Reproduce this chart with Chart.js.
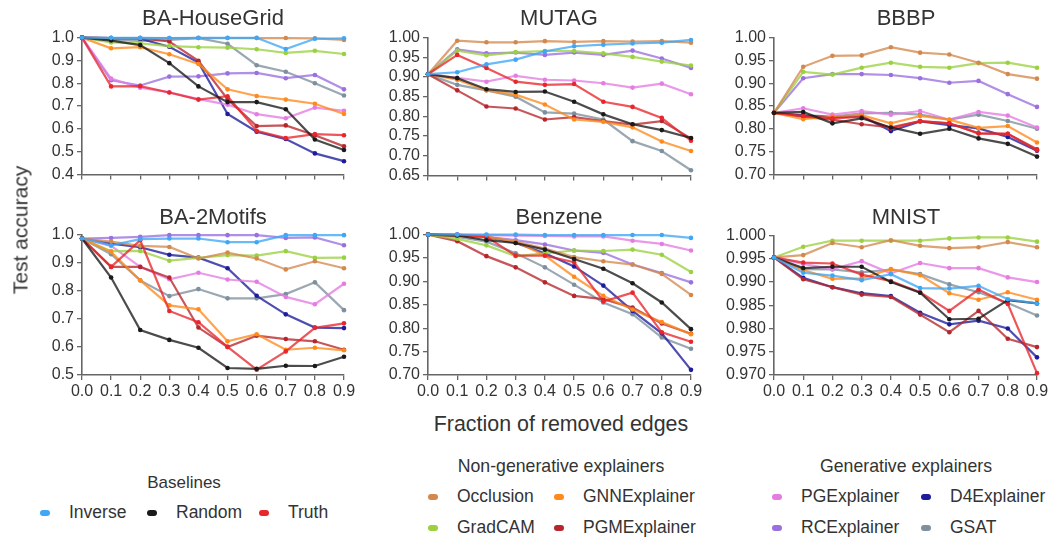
<!DOCTYPE html>
<html>
<head>
<meta charset="utf-8">
<script src="https://cdn.jsdelivr.net/npm/chart.js@4"></script>
<style>
  body { margin: 0; width: 1048px; height: 537px; background: #fff; position: relative; overflow: hidden;
         font-family: 'Liberation Sans', Arial, sans-serif; color: #333; }
  canvas { position: absolute; }
  .txt { position: absolute; white-space: nowrap; line-height: 1; transform: translate(-50%, -50%); }
  .lab { position: absolute; white-space: nowrap; line-height: 1; transform: translateY(-50%); font-size: 17.5px; }
  .mark { position: absolute; width: 10px; height: 6px; border-radius: 3px; transform: translate(-50%, -50%); }
</style>
</head>
<body>
<canvas id="c0"></canvas><canvas id="c1"></canvas><canvas id="c2"></canvas>
<canvas id="c3"></canvas><canvas id="c4"></canvas><canvas id="c5"></canvas>
<div id="legend"></div>
<script>
// x categories (fraction of removed edges)
const xLabels = ['0.0', '0.1', '0.2', '0.3', '0.4', '0.5', '0.6', '0.7', '0.8', '0.9'];

const methods = ['Inverse', 'Random', 'Truth', 'Occlusion', 'GNNExplainer', 'GradCAM',
                 'PGMExplainer', 'PGExplainer', 'D4Explainer', 'RCExplainer', 'GSAT'];
const methodColors = ['#3fa7f5', '#1a1a1a', '#e8262c', '#d3894d', '#ff8a1c', '#9bd140',
                      '#b6262c', '#e47ce2', '#1c1c9c', '#9a70e0', '#7e8f9e'];

// test accuracy per dataset
const houseGrid = {
  Inverse:      [1.0, 0.999, 0.999, 0.998, 0.999, 0.999, 0.999, 0.95, 0.995, 0.997],
  Random:       [1.0, 0.987, 0.967, 0.888, 0.786, 0.717, 0.717, 0.686, 0.553, 0.507],
  Truth:        [1.0, 0.786, 0.787, 0.759, 0.728, 0.743, 0.591, 0.559, 0.577, 0.572],
  Occlusion:    [1.0, 0.998, 0.998, 0.998, 0.998, 0.998, 0.998, 0.998, 0.997, 0.99],
  GNNExplainer: [1.0, 0.953, 0.958, 0.927, 0.884, 0.773, 0.744, 0.728, 0.71, 0.665],
  GradCAM:      [1.0, 0.979, 0.975, 0.963, 0.958, 0.956, 0.949, 0.933, 0.942, 0.928],
  PGMExplainer: [1.0, 0.998, 0.998, 0.983, 0.898, 0.73, 0.612, 0.615, 0.572, 0.523],
  PGExplainer:  [1.0, 0.82, 0.78, 0.76, 0.73, 0.706, 0.664, 0.646, 0.693, 0.679],
  D4Explainer:  [1.0, 0.998, 0.995, 0.96, 0.891, 0.665, 0.587, 0.555, 0.492, 0.458],
  RCExplainer:  [1.0, 0.813, 0.79, 0.829, 0.83, 0.843, 0.845, 0.822, 0.836, 0.773],
  GSAT:         [1.0, 0.99, 0.985, 0.99, 0.998, 0.973, 0.879, 0.85, 0.80, 0.746]
};
const mutag = {
  Inverse:      [0.907, 0.912, 0.932, 0.944, 0.965, 0.978, 0.982, 0.985, 0.987, 0.994],
  Random:       [0.907, 0.897, 0.869, 0.862, 0.863, 0.837, 0.805, 0.78, 0.765, 0.745],
  Truth:        [0.907, 0.956, 0.923, 0.888, 0.88, 0.882, 0.837, 0.824, 0.796, 0.738],
  Occlusion:    [0.907, 0.992, 0.988, 0.988, 0.991, 0.989, 0.991, 0.99, 0.991, 0.987],
  GNNExplainer: [0.907, 0.893, 0.866, 0.855, 0.83, 0.792, 0.786, 0.772, 0.736, 0.712],
  GradCAM:      [0.907, 0.967, 0.955, 0.963, 0.966, 0.966, 0.96, 0.951, 0.939, 0.929],
  PGMExplainer: [0.907, 0.866, 0.825, 0.82, 0.792, 0.798, 0.788, 0.779, 0.788, 0.744],
  PGExplainer:  [0.907, 0.898, 0.888, 0.903, 0.893, 0.891, 0.884, 0.873, 0.883, 0.856],
  D4Explainer:  null,
  RCExplainer:  [0.907, 0.97, 0.96, 0.962, 0.956, 0.962, 0.956, 0.967, 0.947, 0.923],
  GSAT:         [0.907, 0.88, 0.866, 0.85, 0.81, 0.807, 0.792, 0.737, 0.712, 0.663]
};
const bbbp = {
  Inverse:      null,
  Random:       [0.835, 0.837, 0.812, 0.823, 0.803, 0.789, 0.8, 0.779, 0.767, 0.739],
  Truth:        [0.835, 0.828, 0.823, 0.826, 0.801, 0.817, 0.812, 0.79, 0.789, 0.753],
  Occlusion:    [0.835, 0.936, 0.96, 0.961, 0.979, 0.967, 0.963, 0.945, 0.92, 0.91],
  GNNExplainer: [0.835, 0.821, 0.827, 0.83, 0.812, 0.828, 0.82, 0.802, 0.806, 0.77],
  GradCAM:      [0.835, 0.925, 0.919, 0.934, 0.945, 0.936, 0.934, 0.944, 0.945, 0.934],
  PGMExplainer: [0.835, 0.826, 0.82, 0.81, 0.803, 0.817, 0.812, 0.79, 0.789, 0.755],
  PGExplainer:  [0.835, 0.845, 0.831, 0.839, 0.831, 0.839, 0.82, 0.837, 0.829, 0.803],
  D4Explainer:  [0.835, 0.829, 0.825, 0.828, 0.795, 0.816, 0.808, 0.801, 0.782, 0.752],
  RCExplainer:  [0.835, 0.911, 0.92, 0.92, 0.918, 0.911, 0.901, 0.905, 0.876, 0.848],
  GSAT:         [0.835, 0.83, 0.827, 0.834, 0.835, 0.831, 0.82, 0.831, 0.817, 0.80]
};
const twoMotifs = {
  Inverse:      [0.986, 0.962, 0.984, 0.986, 0.986, 0.973, 0.973, 0.998, 0.998, 0.998],
  Random:       [0.986, 0.847, 0.66, 0.625, 0.597, 0.525, 0.522, 0.533, 0.532, 0.565],
  Truth:        [0.986, 0.885, 0.98, 0.728, 0.688, 0.6, 0.519, 0.584, 0.668, 0.684],
  Occlusion:    [0.986, 0.975, 0.96, 0.956, 0.915, 0.936, 0.915, 0.876, 0.905, 0.88],
  GNNExplainer: [0.986, 0.938, 0.837, 0.748, 0.734, 0.62, 0.645, 0.59, 0.597, 0.588],
  GradCAM:      [0.986, 0.941, 0.942, 0.907, 0.917, 0.927, 0.925, 0.941, 0.917, 0.918],
  PGMExplainer: [0.986, 0.885, 0.885, 0.847, 0.669, 0.6, 0.64, 0.628, 0.62, 0.59],
  PGExplainer:  [0.986, 0.96, 0.885, 0.841, 0.864, 0.84, 0.832, 0.778, 0.752, 0.825],
  D4Explainer:  [0.986, 0.968, 0.955, 0.928, 0.918, 0.88, 0.782, 0.716, 0.669, 0.667],
  RCExplainer:  [0.986, 0.988, 0.992, 0.998, 0.998, 0.998, 0.998, 0.988, 0.99, 0.962],
  GSAT:         [0.986, 0.93, 0.837, 0.781, 0.806, 0.773, 0.773, 0.788, 0.83, 0.731]
};
const benzene = {
  Inverse:      [1.0, 1.0, 1.0, 1.0, 0.999, 0.999, 0.999, 0.999, 0.999, 0.993],
  Random:       [1.0, 0.998, 0.988, 0.982, 0.968, 0.948, 0.927, 0.896, 0.855, 0.798],
  Truth:        [1.0, 0.999, 0.995, 0.955, 0.955, 0.941, 0.857, 0.876, 0.791, 0.771],
  Occlusion:    [1.0, 0.998, 0.995, 0.985, 0.97, 0.952, 0.943, 0.936, 0.916, 0.871],
  GNNExplainer: [1.0, 0.998, 0.995, 0.985, 0.955, 0.91, 0.869, 0.84, 0.813, 0.787],
  GradCAM:      [1.0, 0.991, 0.977, 0.954, 0.96, 0.966, 0.965, 0.968, 0.957, 0.92],
  PGMExplainer: [1.0, 0.986, 0.954, 0.93, 0.898, 0.869, 0.862, 0.844, 0.81, 0.788],
  PGExplainer:  [1.0, 1.0, 0.999, 0.998, 0.997, 0.996, 0.996, 0.987, 0.98, 0.966],
  D4Explainer:  [1.0, 1.0, 0.995, 0.982, 0.96, 0.932, 0.891, 0.837, 0.789, 0.711],
  RCExplainer:  [1.0, 0.998, 0.995, 0.988, 0.979, 0.966, 0.961, 0.936, 0.918, 0.898],
  GSAT:         [1.0, 0.995, 0.985, 0.96, 0.93, 0.893, 0.855, 0.83, 0.78, 0.756]
};
const mnist = {
  Inverse:      [0.9953, 0.992, 0.9914, 0.9904, 0.9917, 0.9887, 0.9886, 0.9892, 0.9863, 0.9854],
  Random:       [0.9953, 0.993, 0.9933, 0.9933, 0.990, 0.9877, 0.982, 0.9821, 0.9861, 0.9854],
  Truth:        [0.9953, 0.9942, 0.994, 0.9916, 0.9902, 0.9878, 0.9838, 0.9884, 0.9853, 0.9704],
  Occlusion:    [0.9953, 0.9958, 0.9984, 0.9975, 0.999, 0.9978, 0.9973, 0.9975, 0.9986, 0.9975],
  GNNExplainer: [0.9953, 0.9926, 0.9907, 0.9908, 0.9928, 0.9915, 0.9876, 0.9862, 0.9878, 0.9862],
  GradCAM:      [0.9953, 0.9976, 0.9989, 0.9989, 0.9989, 0.9989, 0.9994, 0.9996, 0.9996, 0.9987],
  PGMExplainer: [0.9953, 0.9906, 0.9889, 0.9873, 0.9868, 0.983, 0.9792, 0.9838, 0.9778, 0.976],
  PGExplainer:  [0.9953, 0.9939, 0.9928, 0.9945, 0.9919, 0.9941, 0.993, 0.993, 0.991, 0.99],
  D4Explainer:  [0.9953, 0.9909, 0.9889, 0.9876, 0.987, 0.9834, 0.9809, 0.9817, 0.98, 0.9738],
  RCExplainer:  null,
  GSAT:         [0.9953, 0.9928, 0.9927, 0.9921, 0.9927, 0.9917, 0.9895, 0.9878, 0.9855, 0.9828]
};

// y tick values
const ticksHouseGrid = [0.4, 0.5, 0.6, 0.7, 0.8, 0.9, 1.0];
const ticksMutag = [0.65, 0.70, 0.75, 0.80, 0.85, 0.90, 0.95, 1.00];
const ticksBbbp = [0.70, 0.75, 0.80, 0.85, 0.90, 0.95, 1.00];
const ticksTwoMotifs = [0.5, 0.6, 0.7, 0.8, 0.9, 1.0];
const ticksBenzene = [0.70, 0.75, 0.80, 0.85, 0.90, 0.95, 1.00];
const ticksMnist = [0.970, 0.975, 0.980, 0.985, 0.990, 0.995, 1.000];

const FONT = "'Liberation Sans', Arial, sans-serif";
const AXIS = '#666';

function alpha(hex, a) {
  const n = parseInt(hex.slice(1), 16);
  return `rgba(${n >> 16},${(n >> 8) & 255},${n & 255},${a})`;
}

// plot area: left, right, top, bottom (page pixels)
function makePanel(id, box, values, yTicks, decimals, showX) {
  const yW = 52, padT = 12, padR = 14, xH = showX ? 30 : 8;
  const cv = document.getElementById(id);
  cv.width = Math.round(box[1] - box[0] + yW + padR);
  cv.height = Math.round(box[3] - box[2] + padT + xH + 2);
  cv.style.left = (box[0] - yW) + 'px';
  cv.style.top = (box[2] - padT) + 'px';

  const datasets = [];
  methods.forEach((m, i) => {
    if (!values[m]) return;
    datasets.push({
      label: m,
      data: values[m],
      borderColor: alpha(methodColors[i], 0.78),
      backgroundColor: methodColors[i],
      borderWidth: 2.2,
      pointRadius: 2.3,
      pointBorderWidth: 0,
      pointBackgroundColor: methodColors[i],
      tension: 0,
      clip: false
    });
  });

  new Chart(cv, {
    type: 'line',
    data: { labels: xLabels, datasets: datasets },
    options: {
      responsive: false,
      animation: false,
      events: [],
      layout: { padding: { top: padT, right: padR, bottom: 2, left: 0 } },
      plugins: { legend: { display: false }, tooltip: { enabled: false } },
      scales: {
        x: {
          offset: false,
          grid: { display: true, drawOnChartArea: false, drawTicks: true, tickLength: 5, color: AXIS, lineWidth: 1.3 },
          border: { display: true, color: AXIS, width: 1.6 },
          ticks: { display: showX, color: '#333', font: { family: FONT, size: 16 }, padding: 2, maxRotation: 0, autoSkip: false },
          afterFit: s => { s.height = xH; }
        },
        y: {
          min: yTicks[0],
          max: yTicks[yTicks.length - 1],
          afterBuildTicks: s => { s.ticks = yTicks.map(v => ({ value: v })); },
          grid: { display: true, drawOnChartArea: false, drawTicks: true, tickLength: 5, color: AXIS, lineWidth: 1.3 },
          border: { display: true, color: AXIS, width: 1.6 },
          ticks: { color: '#333', font: { family: FONT, size: 16 }, padding: 3, autoSkip: false,
                   callback: v => Number(v).toFixed(decimals) },
          afterFit: s => { s.width = yW; }
        }
      }
    }
  });
}

makePanel('c0', [82, 344, 37.3, 177.3], houseGrid, ticksHouseGrid, 1, false);
makePanel('c1', [428.3, 691, 37, 178], mutag, ticksMutag, 2, false);
makePanel('c2', [774.3, 1037.3, 37, 177], bbbp, ticksBbbp, 2, false);
makePanel('c3', [82, 344, 234.3, 375.3], twoMotifs, ticksTwoMotifs, 1, true);
makePanel('c4', [428.3, 691, 234.3, 375.3], benzene, ticksBenzene, 2, true);
makePanel('c5', [774.3, 1037.3, 234.9, 375.3], mnist, ticksMnist, 3, true);

// titles and text
function text(str, x, y, size, rotate) {
  const d = document.createElement('div');
  d.className = 'txt';
  d.textContent = str;
  d.style.left = x + 'px';
  d.style.top = y + 'px';
  d.style.fontSize = size + 'px';
  if (rotate) d.style.transform = 'translate(-50%, -50%) rotate(-90deg)';
  document.body.appendChild(d);
}
text('BA-HouseGrid', 213, 18, 22);
text('MUTAG', 559, 18, 22);
text('BBBP', 906, 18, 22);
text('BA-2Motifs', 213, 217, 22);
text('Benzene', 559, 217, 22);
text('MNIST', 906, 217, 22);
text('Test accuracy', 20, 230, 21, true);
text('Fraction of removed edges', 561, 425, 21.4);

// legend
text('Baselines', 184, 482, 17);
text('Non-generative explainers', 561, 467, 17.7);
text('Generative explainers', 906, 467, 17.7);
const legendPos = {
  Inverse: [45, 513], Random: [152, 513], Truth: [264, 513],
  Occlusion: [433, 497], GNNExplainer: [559, 497],
  GradCAM: [433, 528], PGMExplainer: [559, 528],
  PGExplainer: [777, 497], D4Explainer: [926, 497],
  RCExplainer: [777, 528], GSAT: [926, 528]
};
methods.forEach((m, i) => {
  const [x, y] = legendPos[m];
  const mk = document.createElement('div');
  mk.className = 'mark';
  mk.style.left = x + 'px';
  mk.style.top = y + 'px';
  mk.style.background = methodColors[i];
  document.body.appendChild(mk);
  const lb = document.createElement('div');
  lb.className = 'lab';
  lb.textContent = m;
  lb.style.left = (x + 24) + 'px';
  lb.style.top = y + 'px';
  document.body.appendChild(lb);
});
</script>
</body>
</html>
